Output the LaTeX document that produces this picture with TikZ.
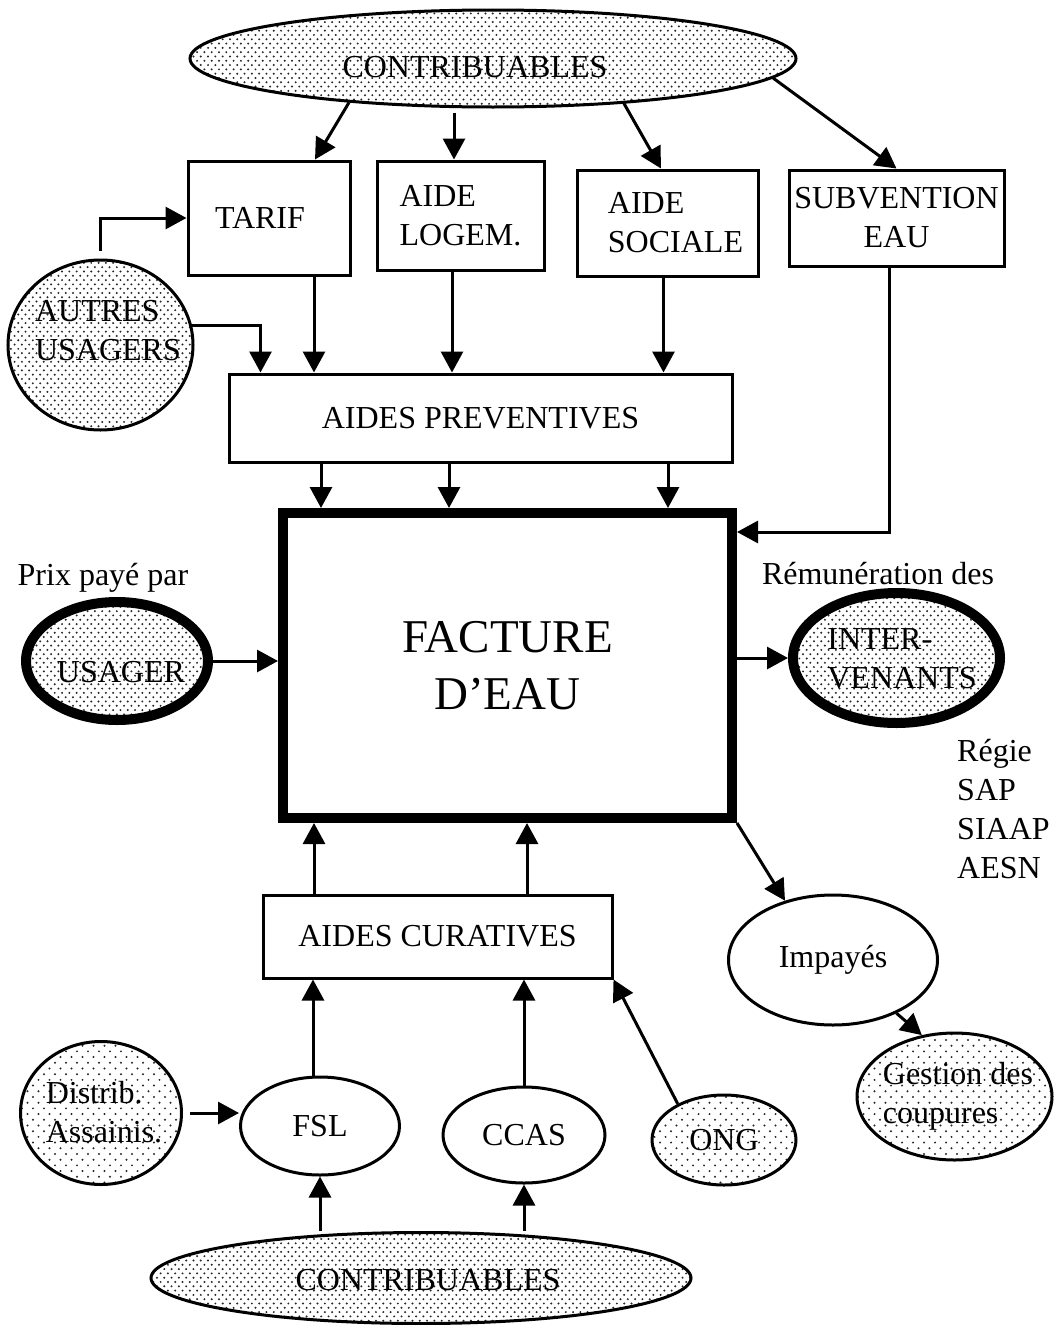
\documentclass[tikz,border=0pt]{standalone}
\usepackage{fontspec}
\setmainfont{Liberation Serif}
\usetikzlibrary{shapes.geometric,arrows.meta,patterns}

% trames de points
\pgfdeclarepatternformonly{pointsfins}{\pgfqpoint{-1.2pt}{-1.2pt}}{\pgfqpoint{5pt}{5.5pt}}{\pgfqpoint{7.3pt}{8.6pt}}{%
  \pgfpathcircle{\pgfqpoint{0pt}{0pt}}{1.1pt}%
  \pgfpathcircle{\pgfqpoint{3.65pt}{4.3pt}}{1.1pt}%
  \pgfusepath{fill}}
\pgfdeclarepatternformonly{pointslarges}{\pgfqpoint{-1.2pt}{-1.2pt}}{\pgfqpoint{7pt}{7pt}}{\pgfqpoint{11pt}{11.4pt}}{%
  \pgfpathcircle{\pgfqpoint{0pt}{0pt}}{1.1pt}%
  \pgfpathcircle{\pgfqpoint{5.5pt}{5.7pt}}{1.1pt}%
  \pgfusepath{fill}}

\tikzset{
  boite/.style={draw, rectangle, line width=3pt, inner sep=0pt, align=left},
  bulle/.style={draw, ellipse, line width=3pt, inner sep=0pt},
  bulledense/.style={bulle, pattern=pointsfins, pattern color=black!85},
  bulleclaire/.style={bulle, pattern=pointslarges, pattern color=black!85},
  fleche/.style={line width=3pt, -{Triangle[length=21pt,width=22pt]}},
  texte/.style={align=left, inner sep=0pt}
}

\begin{document}
\begin{tikzpicture}[x=1pt, y=1pt, font=\fontsize{32}{39}\selectfont]
\useasboundingbox (0,0) rectangle (1053,-1325);

% Contribuables (en haut)
\node[bulledense, minimum width=606pt, minimum height=97pt] (contribHaut) at (493,-58.5) {};
\node[texte] (contribHautT) at (475,-67) {CONTRIBUABLES};

% Les aides
\node[boite, minimum width=162pt, minimum height=114pt] (tarif) at (269,-218) {TARIF\hspace*{18pt}};
\node[boite, minimum width=167pt, minimum height=109pt] (logem) at (460.5,-215.5) {AIDE\\LOGEM.};
\node[boite, minimum width=181pt, minimum height=106pt] (sociale) at (667.5,-223) {\hspace*{16pt}AIDE\\\hspace*{16pt}SOCIALE};
\node[boite, align=center, minimum width=215pt, minimum height=96pt] (subv) at (896.5,-218) {SUBVENTION\\EAU};

% Autres usagers
\node[bulledense, minimum width=185pt, minimum height=170pt] (autres) at (100.5,-345) {};
\node[texte] (autresT) at (108,-331) {AUTRES\\USAGERS};

% Aides preventives
\node[boite, minimum width=503pt, minimum height=88pt] (prev) at (480.5,-418) {AIDES PREVENTIVES};

% Facture
\node[draw, line width=10pt, minimum width=449pt, minimum height=305pt, align=center,
  font=\fontsize{47}{57}\selectfont] (facture) at (507.5,-665.5) {FACTURE\\D’EAU};

% Usager
\node[texte] (prix) at (103,-578) {Prix payé par};
\node[bulledense, line width=10pt, minimum width=182pt, minimum height=118pt] (usager) at (117,-661) {};
\node[texte] (usagerT) at (121,-672) {USAGER};

% Intervenants
\node[texte] (remun) at (878,-574) {Rémunération des};
\node[bulledense, line width=10pt, minimum width=207pt, minimum height=130pt] (inter) at (896.5,-658) {};
\node[texte] (interT) at (902,-659) {INTER-\\VENANTS};
\node[texte, anchor=north west] (regie) at (957,-739) {Régie\\SAP\\SIAAP\\AESN};

% Aides curatives
\node[boite, minimum width=349pt, minimum height=83pt] (curat) at (437.5,-936.5) {AIDES CURATIVES};

% Impayes
\node[bulle, minimum width=209pt, minimum height=130pt] (impayes) at (833,-960) {Impayés};
\node[bulleclaire, minimum width=195pt, minimum height=127pt] (gestion) at (954.5,-1096.5) {};
\node[texte] (gestionT) at (958,-1096) {Gestion des\\coupures};

% Financeurs
\node[bulleclaire, minimum width=161pt, minimum height=143pt] (distrib) at (101,-1113) {};
\node[texte] (distribT) at (104,-1112) {Distrib.\\Assainis.};
\node[bulle, minimum width=159pt, minimum height=98pt] (fsl) at (320,-1126) {FSL};
\node[bulle, minimum width=162pt, minimum height=96pt] (ccas) at (524,-1135) {CCAS};
\node[bulleclaire, minimum width=144pt, minimum height=90pt] (ong) at (724,-1140) {ONG};

% Contribuables (en bas)
\node[bulledense, minimum width=540pt, minimum height=91pt] (contribBas) at (421,-1278) {};
\node[texte] (contribBasT) at (428,-1280) {CONTRIBUABLES};

% Fleches du haut
\draw[fleche] (contribHaut.197.5) -- ([xshift=46pt]tarif.north);
\draw[fleche] ([xshift=-6.5pt,yshift=47pt]logem.north) -- ([xshift=-6.5pt]logem.north);
\draw[fleche] (contribHaut.341.4) -- ([xshift=-6.5pt]sociale.north);
\draw[fleche] (contribHaut.356.2) -- (subv.north);

\draw[fleche] ([yshift=8pt]autres.north) |- (tarif.west);
\draw[fleche] (autres.12.5) -| ([xshift=33pt]prev.north west);

% Vers les aides preventives
\draw[fleche] ([xshift=45pt]tarif.south) coordinate (a) -- (a |- prev.north);
\draw[fleche] ([xshift=-8.5pt]logem.south) coordinate (b) -- (b |- prev.north);
\draw[fleche] ([xshift=-4pt]sociale.south) coordinate (c) -- (c |- prev.north);

% Vers la facture
\draw[fleche] ([xshift=-159.5pt]prev.south) coordinate (p1) -- (p1 |- facture.north);
\draw[fleche] ([xshift=-31.5pt]prev.south) coordinate (p2) -- (p2 |- facture.north);
\draw[fleche] ([xshift=187.5pt]prev.south) coordinate (p3) -- (p3 |- facture.north);
\draw[fleche] ([xshift=-7.5pt]subv.south) |- ([yshift=133.5pt]facture.east);
\draw[fleche] (usager.east) -- (usager.east -| facture.west);
\draw[fleche] (inter.west -| facture.east) -- (inter.west);
\draw[fleche] (facture.south east) -- (impayes.129);
\draw[fleche] (impayes.320) -- (gestion.118);

% Aides curatives
\draw[fleche] ([xshift=-123.5pt]curat.north) coordinate (d) -- (d |- facture.south);
\draw[fleche] ([xshift=89.5pt]curat.north) coordinate (e) -- (e |- facture.south);
\draw[fleche] ([xshift=-7pt]fsl.north) coordinate (f) -- (f |- curat.south);
\draw[fleche] (ccas.north) -- (ccas.north |- curat.south);
\draw[fleche] (ong.142) -- (curat.south east);
\draw[fleche] ([xshift=7pt]distrib.east) -- (distrib.east -| fsl.west);
\draw[fleche] (contribBas.north -| fsl.south) -- (fsl.south);
\draw[fleche] (contribBas.north -| ccas.south) -- (ccas.south);

\end{tikzpicture}
\end{document}
